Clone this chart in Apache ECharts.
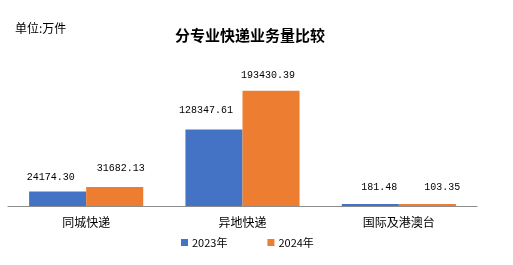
<!DOCTYPE html>
<html><head><meta charset="utf-8">
<script src="https://cdn.jsdelivr.net/npm/echarts@6/dist/echarts.min.js"></script>
<style>html,body{margin:0;padding:0;background:#fff}#c{width:513px;height:265px}</style>
</head><body><div id="c"></div>
<script>
var categories = ['同城快递', '异地快递', '国际及港澳台'];
var seriesNames = ['2023年', '2024年'];
var values2023 = [24174.30, 128347.61, 181.48];
var values2024 = [31682.13, 193430.39, 103.35];
var labelText2023 = ['24174.30', '128347.61', '181.48'];
var labelText2024 = ['31682.13', '193430.39', '103.35'];
var offs2023 = [[-7, 3], [-8, -2], [9, 0]];
var offs2024 = [[6, -2], [-3, 2], [15, 0]];

var chart = echarts.init(document.getElementById('c'), null, {renderer: 'canvas'});
var cjk = '"Noto Sans CJK SC", sans-serif';
function mk(vals, texts, offs) {
  return vals.map(function (v, i) {
    return {value: v, label: {formatter: texts[i], offset: offs[i]}};
  });
}
chart.setOption({
  animation: false,
  title: [
    {text: '分专业快递业务量比较', left: 245, textAlign: 'center', top: 23,
     textStyle: {fontFamily: cjk, fontSize: 15, fontWeight: 'bold', color: '#000'}},
    {text: '单位:万件', left: 10, top: 17,
     textStyle: {fontFamily: cjk, fontSize: 12, fontWeight: 'normal', color: '#000'}}
  ],
  legend: {
    data: seriesNames, left: 176, top: 232, itemWidth: 7, itemHeight: 7, itemGap: 40,
    icon: 'rect',
    textStyle: {fontFamily: cjk, fontSize: 11, color: '#000', padding: [0, 0, 0, -1]}
  },
  grid: {left: 8, right: 36, top: 57, bottom: 59, containLabel: false},
  xAxis: {
    type: 'category', data: categories,
    axisLine: {lineStyle: {color: '#8c8c8c', width: 1}},
    axisTick: {show: false},
    axisLabel: {fontFamily: cjk, fontSize: 12, color: '#000', margin: 10}
  },
  yAxis: {type: 'value', min: 0, max: 250000, show: false, splitLine: {show: false}},
  series: [
    {name: seriesNames[0], type: 'bar', data: mk(values2023, labelText2023, offs2023),
     itemStyle: {color: '#4472C4'}, barGap: '0%', barCategoryGap: '27%', barMinHeight: 2,
     label: {show: true, position: 'top', distance: 12, fontFamily: '"Liberation Mono", monospace', fontSize: 10, color: '#000'}},
    {name: seriesNames[1], type: 'bar', data: mk(values2024, labelText2024, offs2024),
     itemStyle: {color: '#ED7D31'}, barGap: '0%', barCategoryGap: '27%', barMinHeight: 2,
     label: {show: true, position: 'top', distance: 12, fontFamily: '"Liberation Mono", monospace', fontSize: 10, color: '#000'}}
  ]
});
</script></body></html>
